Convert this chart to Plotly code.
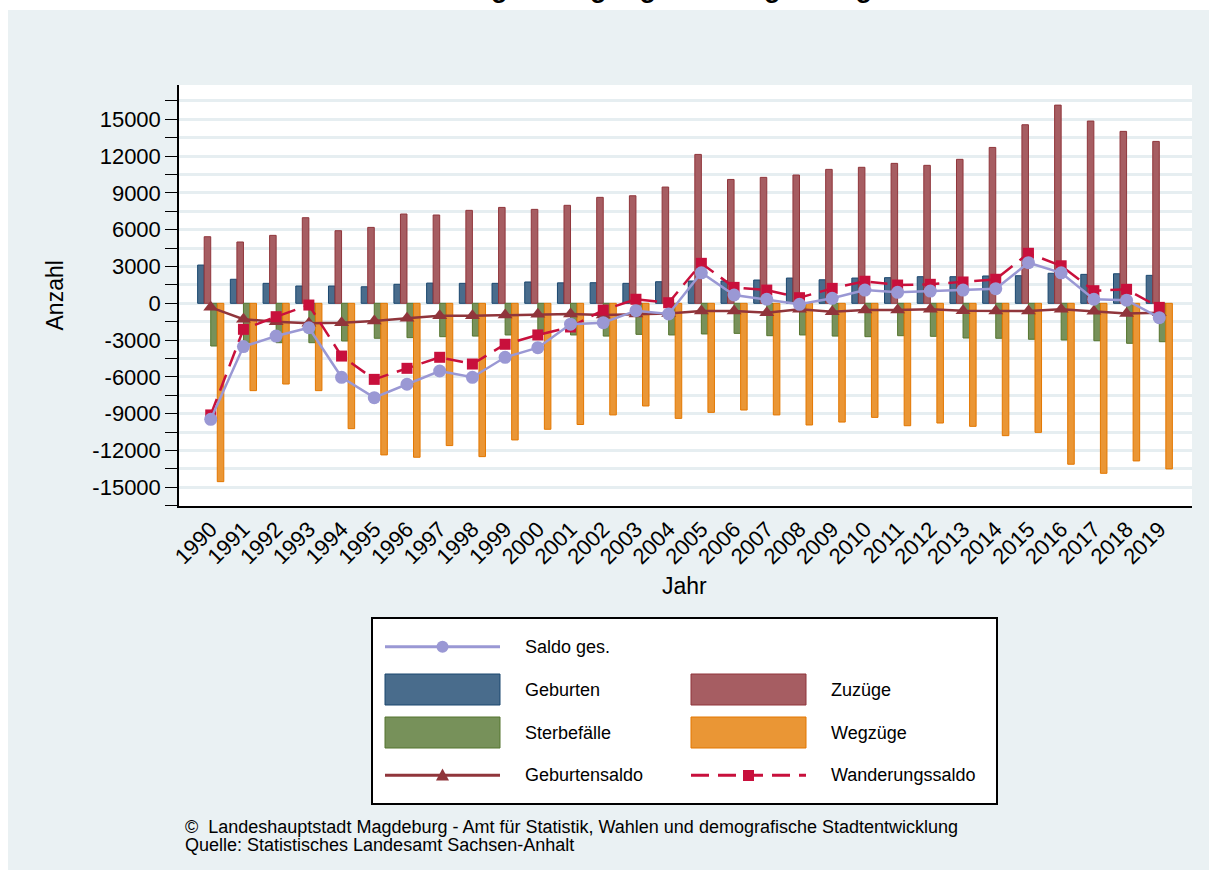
import plotly.graph_objects as go

# ---------------- data ----------------
years = list(range(1990, 2020))
geburten = [3120, 1960, 1630, 1410, 1410, 1350, 1550, 1650, 1630, 1630,
            1740, 1670, 1680, 1630, 1760, 1820, 1820, 1900, 2060, 1920,
            2060, 2090, 2170, 2170, 2230, 2250, 2450, 2360, 2410, 2280]
zuzuege = [5430, 5000, 5540, 6980, 5920, 6190, 7280, 7200, 7580, 7820,
           7660, 7990, 8640, 8770, 9480, 12140, 10100, 10270, 10460, 10920,
           11090, 11410, 11250, 11740, 12710, 14560, 16160, 14860, 14020, 13200]
sterbefaelle = [-3480, -3180, -3210, -3210, -3070, -2850, -2800, -2720, -2670, -2580,
                -2500, -2580, -2670, -2530, -2580, -2500, -2450, -2640, -2580, -2670,
                -2720, -2640, -2690, -2830, -2850, -2930, -2990, -3050, -3260, -3130]
wegzuege = [-14540, -7120, -6580, -7120, -10220, -12360, -12550, -11600, -12500, -11140,
            -10270, -9880, -9100, -8370, -9380, -8890, -8700, -9100, -9920, -9680,
            -9300, -9980, -9760, -10030, -10790, -10520, -13120, -13860, -12850, -13500]
geburtensaldo = [-330, -1300, -1500, -1630, -1580, -1440, -1220, -1010, -1010, -950,
                 -900, -880, -950, -870, -820, -630, -630, -770, -490, -690,
                 -550, -550, -490, -600, -630, -630, -490, -650, -820, -770]
wanderungssaldo = [-9100, -2120, -1090, -140, -4300, -6200, -5300, -4400, -4950, -3340,
                   -2580, -1930, -550, 330, 50, 3260, 1300, 1080, 460, 1220,
                   1800, 1490, 1550, 1740, 1960, 4080, 3060, 1030, 1140, -330]
saldo_ges = [-9460, -3530, -2670, -1990, -6030, -7690, -6600, -5520, -6030, -4400,
             -3620, -1700, -1580, -600, -870, 2490, 680, 330, -80, 410,
             1080, 900, 1000, 1080, 1190, 3310, 2490, 330, 250, -1170]

y_tick_values = list(range(-15000, 15001, 3000))
y_tick_labels = [str(v) for v in y_tick_values]
x_tick_labels = [str(y) for y in years]

title_text = "Bevölkerungsbewegungen in Magdeburg"
footer_lines = ["\u00a9  Landeshauptstadt Magdeburg - Amt für Statistik, Wahlen und demografische Stadtentwicklung",
                "Quelle: Statistisches Landesamt Sachsen-Anhalt"]

# ---------------- colours ----------------
C_GEB = ("#496C8C", "#1A476F")
C_ZUZ = ("#A65D62", "#90353B")
C_STE = ("#77915A", "#55752F")
C_WEG = ("#EA9635", "#E37700")
C_GSALDO = "#90353B"
C_WSALDO = "#C8103C"
C_SALDO = "#9A98D4"
BG = "#EAF1F3"
GRID = "#E6EEF1"
FONT = "Liberation Sans, Arial, Helvetica, sans-serif"

# ---------------- geometry ----------------
FIG_W, FIG_H = 1209, 870
M_L, M_R, M_T, M_B = 179, 17, 85, 364
PW = FIG_W - M_L - M_R
PH = FIG_H - M_T - M_B


def px(x):
    return (x - M_L) / PW


def py(y):
    return (FIG_H - M_B - y) / PH


fig = go.Figure()

bar_specs = [
    ("Geburten", geburten, C_GEB, -0.4),
    ("Zuzüge", zuzuege, C_ZUZ, -0.2),
    ("Sterbefälle", sterbefaelle, C_STE, 0.0),
    ("Wegzüge", wegzuege, C_WEG, 0.2),
]
for name, vals, (fill, edge), off in bar_specs:
    fig.add_trace(go.Bar(x=years, y=vals, name=name, width=0.2, offset=off,
                         marker=dict(color=fill, line=dict(color=edge, width=1))))

fig.add_trace(go.Scatter(x=years, y=geburtensaldo, name="Geburtensaldo", mode="lines+markers",
                         line=dict(color=C_GSALDO, width=2.5),
                         marker=dict(symbol="triangle-up", size=13, color=C_GSALDO)))
fig.add_trace(go.Scatter(x=years, y=wanderungssaldo, name="Wanderungssaldo", mode="lines+markers",
                         line=dict(color=C_WSALDO, width=2.5, dash="17px,9px"),
                         marker=dict(symbol="square", size=11, color=C_WSALDO)))
fig.add_trace(go.Scatter(x=years, y=saldo_ges, name="Saldo ges.", mode="lines+markers",
                         line=dict(color=C_SALDO, width=2.5),
                         marker=dict(symbol="circle", size=13, color=C_SALDO)))

fig.update_layout(
    width=FIG_W, height=FIG_H,
    margin=dict(l=M_L, r=M_R, t=M_T, b=M_B, pad=0, autoexpand=False),
    paper_bgcolor=BG, plot_bgcolor="white",
    barmode="overlay", showlegend=False,
    font=dict(family=FONT, color="black"),
)
fig.update_xaxes(
    range=[1989.03, 2020.0], tickmode="array", tickvals=years, ticktext=x_tick_labels,
    tickangle=-45, tickfont=dict(size=22, family=FONT, color="black"),
    ticks="", showline=True, linecolor="black", linewidth=1.5,
    showgrid=False, zeroline=False,
)
fig.update_yaxes(
    range=[-16525, 17800], tickmode="array", tickvals=y_tick_values, ticktext=y_tick_labels,
    tickfont=dict(size=22, family=FONT, color="black"),
    ticks="outside", ticklen=12, tickwidth=1.2, tickcolor="black",
    showline=True, linecolor="black", linewidth=1.5,
    showgrid=True, gridcolor=GRID, gridwidth=2.5, zeroline=False,
    minor=dict(tickmode="linear", tick0=0, dtick=1500, ticks="outside", ticklen=12,
               tickwidth=1.2, tickcolor="black", showgrid=True, gridcolor=GRID, gridwidth=2.5),
)

shapes = []
# white page border at top and left of the graph region
shapes.append(dict(type="rect", xref="paper", yref="paper", x0=px(0), x1=px(FIG_W), y0=py(10), y1=py(0),
                   line=dict(width=0), fillcolor="white", layer="above"))
shapes.append(dict(type="rect", xref="paper", yref="paper", x0=px(0), x1=px(8), y0=py(FIG_H), y1=py(0),
                   line=dict(width=0), fillcolor="white", layer="above"))
# legend frame
shapes.append(dict(type="rect", xref="paper", yref="paper", x0=px(372), x1=px(997), y0=py(804), y1=py(618),
                   line=dict(color="black", width=2), fillcolor="white", layer="above"))
# legend bar swatches
for (fill, edge), x0, y0 in [(C_GEB, 385, 674), (C_ZUZ, 691, 674), (C_STE, 385, 717), (C_WEG, 691, 717)]:
    shapes.append(dict(type="rect", xref="paper", yref="paper", x0=px(x0), x1=px(x0 + 115),
                       y0=py(y0 + 31), y1=py(y0), line=dict(color=edge, width=1), fillcolor=fill, layer="above"))
# Saldo ges. legend
shapes.append(dict(type="line", xref="paper", yref="paper", x0=px(385), x1=px(500), y0=py(646.7), y1=py(646.7),
                   line=dict(color=C_SALDO, width=3), layer="above"))
shapes.append(dict(type="circle", xref="paper", yref="paper", x0=px(436.5), x1=px(448.5), y0=py(652.7), y1=py(640.7),
                   line=dict(color=C_SALDO, width=0), fillcolor=C_SALDO, layer="above"))
# Geburtensaldo legend
shapes.append(dict(type="line", xref="paper", yref="paper", x0=px(385), x1=px(500), y0=py(775.3), y1=py(775.3),
                   line=dict(color=C_GSALDO, width=3), layer="above"))
shapes.append(dict(type="path", xref="paper", yref="paper",
                   path="M {:.5f},{:.5f} L {:.5f},{:.5f} L {:.5f},{:.5f} Z".format(
                       px(442.5), py(768.5), px(436), py(780.5), px(449), py(780.5)),
                   line=dict(color=C_GSALDO, width=0), fillcolor=C_GSALDO, layer="above"))
# Wanderungssaldo legend
shapes.append(dict(type="line", xref="paper", yref="paper", x0=px(691), x1=px(806), y0=py(775.3), y1=py(775.3),
                   line=dict(color=C_WSALDO, width=3, dash="18px,9px"), layer="above"))
shapes.append(dict(type="rect", xref="paper", yref="paper", x0=px(743), x1=px(754), y0=py(781), y1=py(770),
                   line=dict(color=C_WSALDO, width=0), fillcolor=C_WSALDO, layer="above"))
fig.update_layout(shapes=shapes)

annotations = []
legend_labels = [("Saldo ges.", 523, 646.7), ("Geburten", 523, 690), ("Zuzüge", 829, 690),
                 ("Sterbefälle", 523, 732.7), ("Wegzüge", 829, 732.7),
                 ("Geburtensaldo", 523, 775.3), ("Wanderungssaldo", 829, 775.3)]
for txt, x, y in legend_labels:
    annotations.append(dict(text=txt, x=px(x), y=py(y), xref="paper", yref="paper",
                            xanchor="left", yanchor="middle", showarrow=False,
                            font=dict(size=18, family=FONT, color="black")))
annotations.append(dict(text="Anzahl", x=px(54), y=py(295.5), xref="paper", yref="paper", textangle=-90,
                        xanchor="center", yanchor="middle", showarrow=False,
                        font=dict(size=23, family=FONT, color="black")))
annotations.append(dict(text="Jahr", x=px(684.5), y=py(586), xref="paper", yref="paper",
                        xanchor="center", yanchor="middle", showarrow=False,
                        font=dict(size=23, family=FONT, color="black")))
for txt, y in zip(footer_lines, [827, 845]):
    annotations.append(dict(text=txt, x=px(184), y=py(y), xref="paper", yref="paper",
                            xanchor="left", yanchor="middle", showarrow=False, borderpad=0,
                            font=dict(size=18, family=FONT, color="black")))
# title of the original graphic: only the bottoms of its descenders are inside the picture
annotations.append(dict(text="<b>" + title_text + "</b>", x=px(608), y=py(5), xref="paper", yref="paper",
                        xanchor="center", yanchor="bottom", showarrow=False,
                        font=dict(size=27, family=FONT, color="black")))
fig.update_layout(annotations=annotations)

fig.write_html("out.html", config={"displayModeBar": False},
               post_script="document.body.style.margin='0px';")
